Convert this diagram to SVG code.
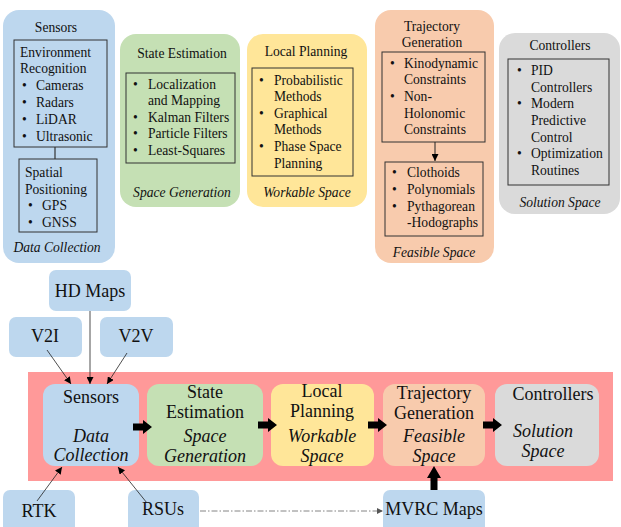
<svg xmlns="http://www.w3.org/2000/svg" width="621" height="527" viewBox="0 0 621 527">
<defs>
<marker id="ah" viewBox="0 0 10 10" refX="10" refY="5" markerWidth="7" markerHeight="7" markerUnits="userSpaceOnUse" orient="auto"><path d="M0,0 L10,5 L0,10 z" fill="#000"/></marker>
<marker id="ahg" viewBox="0 0 10 10" refX="10" refY="5" markerWidth="6" markerHeight="6" markerUnits="userSpaceOnUse" orient="auto"><path d="M0,0 L10,5 L0,10 z" fill="#555"/></marker>
</defs>
<style>
svg text, text{font-family:"Liberation Serif",serif !important;fill:#111;}
.t{font-size:13.6px;}
.c{text-anchor:middle;}
.i{font-style:italic;}
.b{font-size:18px;}
.blue{fill:#bdd7ee;}
.green{fill:#c5e0b4;}
.yellow{fill:#ffe699;}
.orange{fill:#f8cbad;}
.gray{fill:#dadada;}
.inner{fill:none;stroke:#333;stroke-width:1;}
.thin{stroke:#222;stroke-width:0.8;fill:none;}
</style>
<rect width="621" height="527" fill="#fff"/>

<g id="top-sensors">
<rect class="blue" x="3" y="10" width="112" height="253" rx="16"/>
<text font-family="Liberation Serif" class="t c" x="56" y="32">Sensors</text>
<rect class="inner" x="14" y="40" width="93" height="107"/>
<text font-family="Liberation Serif" class="t" x="20" y="57">Environment</text>
<text font-family="Liberation Serif" class="t" x="20" y="73">Recognition</text>
<text font-family="Liberation Serif" class="t" x="22" y="90">•</text><text font-family="Liberation Serif" class="t" x="36" y="90">Cameras</text>
<text font-family="Liberation Serif" class="t" x="22" y="107">•</text><text font-family="Liberation Serif" class="t" x="36" y="107">Radars</text>
<text font-family="Liberation Serif" class="t" x="22" y="124">•</text><text font-family="Liberation Serif" class="t" x="36" y="124">LiDAR</text>
<text font-family="Liberation Serif" class="t" x="22" y="141">•</text><text font-family="Liberation Serif" class="t" x="36" y="141">Ultrasonic</text>
<line x1="55" y1="147" x2="55" y2="159" stroke="#333" stroke-width="1.2"/>
<rect class="inner" x="19" y="159" width="78" height="73"/>
<text font-family="Liberation Serif" class="t" x="25" y="177">Spatial</text>
<text font-family="Liberation Serif" class="t" x="25" y="194">Positioning</text>
<text font-family="Liberation Serif" class="t" x="28" y="210">•</text><text font-family="Liberation Serif" class="t" x="42" y="210">GPS</text>
<text font-family="Liberation Serif" class="t" x="28" y="227">•</text><text font-family="Liberation Serif" class="t" x="42" y="227">GNSS</text>
<text font-family="Liberation Serif" class="t c i" x="57" y="252">Data Collection</text>
</g>

<g id="top-state-estimation">
<rect class="green" x="120" y="34" width="120" height="173" rx="16"/>
<text font-family="Liberation Serif" class="t c" x="182" y="58">State Estimation</text>
<rect class="inner" x="126" y="73" width="109" height="90"/>
<text font-family="Liberation Serif" class="t" x="133" y="89">•</text><text font-family="Liberation Serif" class="t" x="148" y="89">Localization</text>
<text font-family="Liberation Serif" class="t" x="148" y="105">and Mapping</text>
<text font-family="Liberation Serif" class="t" x="133" y="122">•</text><text font-family="Liberation Serif" class="t" x="148" y="122">Kalman Filters</text>
<text font-family="Liberation Serif" class="t" x="133" y="138">•</text><text font-family="Liberation Serif" class="t" x="148" y="138">Particle Filters</text>
<text font-family="Liberation Serif" class="t" x="133" y="155">•</text><text font-family="Liberation Serif" class="t" x="148" y="155">Least-Squares</text>
<text font-family="Liberation Serif" class="t c i" x="182" y="197">Space Generation</text>
</g>

<g id="top-local-planning">
<rect class="yellow" x="247" y="34" width="120" height="173" rx="16"/>
<text font-family="Liberation Serif" class="t c" x="306" y="56">Local Planning</text>
<rect class="inner" x="252" y="68" width="101" height="108"/>
<text font-family="Liberation Serif" class="t" x="259" y="85">•</text><text font-family="Liberation Serif" class="t" x="274" y="85">Probabilistic</text>
<text font-family="Liberation Serif" class="t" x="274" y="101">Methods</text>
<text font-family="Liberation Serif" class="t" x="259" y="118">•</text><text font-family="Liberation Serif" class="t" x="274" y="118">Graphical</text>
<text font-family="Liberation Serif" class="t" x="274" y="134">Methods</text>
<text font-family="Liberation Serif" class="t" x="259" y="151">•</text><text font-family="Liberation Serif" class="t" x="274" y="151">Phase Space</text>
<text font-family="Liberation Serif" class="t" x="274" y="168">Planning</text>
<text font-family="Liberation Serif" class="t c i" x="307" y="197">Workable Space</text>
</g>

<g id="top-trajectory-generation">
<rect class="orange" x="375" y="10" width="119" height="253" rx="16"/>
<text font-family="Liberation Serif" class="t c" x="432" y="31">Trajectory</text>
<text font-family="Liberation Serif" class="t c" x="432" y="47">Generation</text>
<rect class="inner" x="382" y="52" width="103" height="90"/>
<text font-family="Liberation Serif" class="t" x="390" y="68">•</text><text font-family="Liberation Serif" class="t" x="404" y="68">Kinodynamic</text>
<text font-family="Liberation Serif" class="t" x="404" y="84">Constraints</text>
<text font-family="Liberation Serif" class="t" x="390" y="101">•</text><text font-family="Liberation Serif" class="t" x="404" y="101">Non-</text>
<text font-family="Liberation Serif" class="t" x="404" y="118">Holonomic</text>
<text font-family="Liberation Serif" class="t" x="404" y="134">Constraints</text>
<line x1="435" y1="142" x2="435" y2="161" stroke="#222" stroke-width="1" marker-end="url(#ah)"/>
<rect class="inner" x="385" y="162" width="98" height="74"/>
<text font-family="Liberation Serif" class="t" x="392" y="177">•</text><text font-family="Liberation Serif" class="t" x="407" y="177">Clothoids</text>
<text font-family="Liberation Serif" class="t" x="392" y="194">•</text><text font-family="Liberation Serif" class="t" x="407" y="194">Polynomials</text>
<text font-family="Liberation Serif" class="t" x="392" y="211">•</text><text font-family="Liberation Serif" class="t" x="407" y="211">Pythagorean</text>
<text font-family="Liberation Serif" class="t" x="407" y="227">-Hodographs</text>
<text font-family="Liberation Serif" class="t c i" x="434" y="257">Feasible Space</text>
</g>

<g id="top-controllers">
<rect class="gray" x="499" y="33" width="121" height="181" rx="16"/>
<text font-family="Liberation Serif" class="t c" x="560" y="50">Controllers</text>
<rect class="inner" x="508" y="59" width="101" height="126"/>
<text font-family="Liberation Serif" class="t" x="517" y="75">•</text><text font-family="Liberation Serif" class="t" x="531" y="75">PID</text>
<text font-family="Liberation Serif" class="t" x="531" y="92">Controllers</text>
<text font-family="Liberation Serif" class="t" x="517" y="108">•</text><text font-family="Liberation Serif" class="t" x="531" y="108">Modern</text>
<text font-family="Liberation Serif" class="t" x="531" y="125">Predictive</text>
<text font-family="Liberation Serif" class="t" x="531" y="142">Control</text>
<text font-family="Liberation Serif" class="t" x="517" y="158">•</text><text font-family="Liberation Serif" class="t" x="531" y="158">Optimization</text>
<text font-family="Liberation Serif" class="t" x="531" y="175">Routines</text>
<text font-family="Liberation Serif" class="t c i" x="560" y="207">Solution Space</text>
</g>

<g id="pipeline-band">
<rect x="28" y="372" width="585" height="109" fill="#ff9999"/>
</g>

<g id="hd-maps">
<rect class="blue" x="49" y="270" width="82" height="41" rx="7"/>
<text font-family="Liberation Serif" class="b c" x="90" y="297">HD Maps</text>
</g>
<g id="v2i">
<rect class="blue" x="9" y="317" width="73" height="40" rx="7"/>
<text font-family="Liberation Serif" class="b c" x="45" y="342">V2I</text>
</g>
<g id="v2v">
<rect class="blue" x="100" y="317" width="73" height="40" rx="7"/>
<text font-family="Liberation Serif" class="b c" x="136" y="342">V2V</text>
</g>

<g id="sensors">
<rect class="blue" x="43" y="384" width="96" height="82" rx="12"/>
<text font-family="Liberation Serif" class="b c" x="91" y="403">Sensors</text>
<text font-family="Liberation Serif" class="b c i" x="91" y="442">Data</text>
<text font-family="Liberation Serif" class="b c i" x="91" y="461">Collection</text>
</g>
<g id="state-estimation">
<rect class="green" x="147" y="384" width="116" height="82" rx="12"/>
<text font-family="Liberation Serif" class="b c" x="205" y="398">State</text>
<text font-family="Liberation Serif" class="b c" x="205" y="418">Estimation</text>
<text font-family="Liberation Serif" class="b c i" x="205" y="442">Space</text>
<text font-family="Liberation Serif" class="b c i" x="205" y="462">Generation</text>
</g>
<g id="local-planning">
<rect class="yellow" x="271" y="384" width="103" height="82" rx="12"/>
<text font-family="Liberation Serif" class="b c" x="322" y="397">Local</text>
<text font-family="Liberation Serif" class="b c" x="322" y="417">Planning</text>
<text font-family="Liberation Serif" class="b c i" x="322" y="442">Workable</text>
<text font-family="Liberation Serif" class="b c i" x="322" y="462">Space</text>
</g>
<g id="trajectory-generation">
<rect class="orange" x="383" y="384" width="102" height="82" rx="12"/>
<text font-family="Liberation Serif" class="b c" x="434" y="399">Trajectory</text>
<text font-family="Liberation Serif" class="b c" x="434" y="419">Generation</text>
<text font-family="Liberation Serif" class="b c i" x="434" y="442">Feasible</text>
<text font-family="Liberation Serif" class="b c i" x="434" y="462">Space</text>
</g>
<g id="controllers">
<rect class="gray" x="495" y="384" width="104" height="82" rx="12"/>
<text font-family="Liberation Serif" class="b c" x="553" y="400">Controllers</text>
<text font-family="Liberation Serif" class="b c i" x="543" y="437">Solution</text>
<text font-family="Liberation Serif" class="b c i" x="543" y="457">Space</text>
</g>

<g id="rtk">
<rect class="blue" x="3" y="490" width="72" height="45" rx="7"/>
<text font-family="Liberation Serif" class="b c" x="39" y="517">RTK</text>
</g>
<g id="rsus">
<rect class="blue" x="128" y="490" width="71" height="45" rx="7"/>
<text font-family="Liberation Serif" class="b c" x="163" y="515">RSUs</text>
</g>
<g id="mvrc-maps">
<rect class="blue" x="383" y="490" width="102" height="45" rx="7"/>
<text font-family="Liberation Serif" class="b c" x="434" y="515">MVRC Maps</text>
</g>

<g id="connectors">
<line class="thin" x1="90" y1="311" x2="90" y2="384" marker-end="url(#ah)"/>
<line class="thin" x1="47" y1="350" x2="71" y2="384" marker-end="url(#ah)"/>
<line class="thin" x1="127" y1="353" x2="107" y2="384" marker-end="url(#ah)"/>
<line class="thin" x1="37" y1="501" x2="62" y2="467" marker-end="url(#ah)"/>
<line class="thin" x1="147" y1="503" x2="118" y2="467" marker-end="url(#ah)"/>
<line x1="200" y1="511" x2="383" y2="511" stroke="#666" stroke-width="0.8" stroke-dasharray="6,2,1.5,2" marker-end="url(#ahg)"/>
<path d="M133,423.5 H143 V420 L152,427 L143,434 V430.5 H133 Z" fill="#000"/>
<path d="M258,421.5 H268 V418 L277,425 L268,432 V428.5 H258 Z" fill="#000"/>
<path d="M368,421.5 H378 V418 L387,425 L378,432 V428.5 H368 Z" fill="#000"/>
<path d="M483,421.5 H493 V418 L502,425 L493,432 V428.5 H483 Z" fill="#000"/>
<path d="M430.5,490 V478 H427 L434,466 L441,478 H437.5 V490 Z" fill="#000"/>
</g>
</svg>
